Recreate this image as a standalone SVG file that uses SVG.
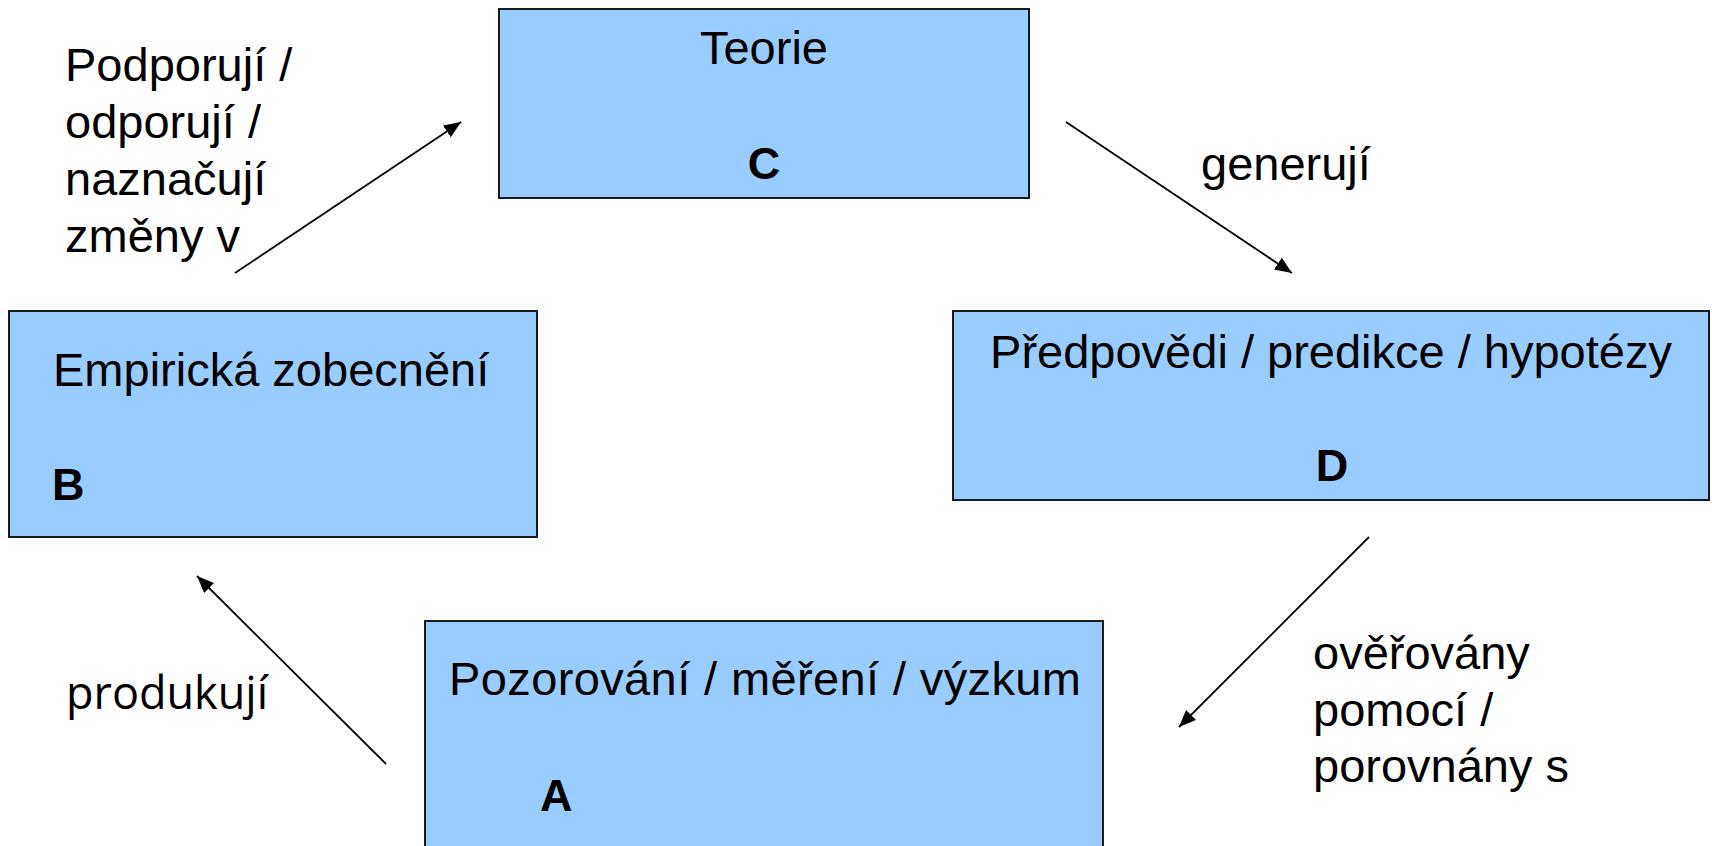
<svg xmlns="http://www.w3.org/2000/svg" width="1712" height="846" viewBox="0 0 1712 846">
<style>
.box{fill:#99CCFF;stroke:#1a1a1a;stroke-width:2}
.t{font-family:"Liberation Sans",Arial,sans-serif;font-size:47px;fill:#000}
.b{font-family:"Liberation Sans",Arial,sans-serif;font-size:45px;font-weight:bold;fill:#000}
.o{font-family:"Open Sans","Noto Sans",sans-serif;font-size:45px;fill:#000}
.c{stroke:#000;stroke-width:1.8;fill:none;marker-end:url(#ah)}
</style>
<defs>
<marker id="ah" markerUnits="userSpaceOnUse" markerWidth="18" markerHeight="14" refX="17" refY="7" orient="auto">
<path d="M0,0 L17,7 L0,14 z" fill="#000"/>
</marker>
</defs>
<rect width="1712" height="846" fill="#fff"/>
<g id="node-C">
<rect class="box" x="499" y="9" width="530" height="189"/>
<text class="t" x="764" y="64" text-anchor="middle">Teorie</text>
<text class="b" x="764" y="179" text-anchor="middle">C</text>
</g>
<g id="node-B">
<rect class="box" x="9" y="311" width="528" height="226"/>
<text class="t" x="53" y="386">Empirická zobecnění</text>
<text class="b" x="52" y="500">B</text>
</g>
<g id="node-D">
<rect class="box" x="953" y="311" width="756" height="189"/>
<text class="t" x="1331" y="368" text-anchor="middle">Předpovědi / predikce / hypotézy</text>
<text class="b" x="1332" y="481" text-anchor="middle">D</text>
</g>
<g id="node-A">
<rect class="box" x="425" y="621" width="678" height="240"/>
<text class="t" x="765" y="695" text-anchor="middle" textLength="632">Pozorování / měření / výzkum</text>
<text class="b" x="540" y="811">A</text>
</g>
<g id="connectors">
<line class="c" x1="235" y1="273" x2="461" y2="122"/>
<line class="c" x1="1066" y1="122" x2="1292" y2="273"/>
<line class="c" x1="1369" y1="537" x2="1179" y2="727"/>
<line class="c" x1="386" y1="764" x2="197" y2="576"/>
</g>
<g id="labels">
<text class="t" x="65" y="81">Podporují /</text>
<text class="t" x="65" y="138">odporují /</text>
<text class="t" x="65" y="195">naznačují</text>
<text class="t" x="65" y="252">změny v</text>
<text class="t" x="1201" y="180">generují</text>
<text class="o" x="66" y="709">produkují</text>
<text class="t" x="1313" y="669">ověřovány</text>
<text class="t" x="1313" y="726">pomocí /</text>
<text class="t" x="1313" y="782">porovnány s</text>
</g>
</svg>
